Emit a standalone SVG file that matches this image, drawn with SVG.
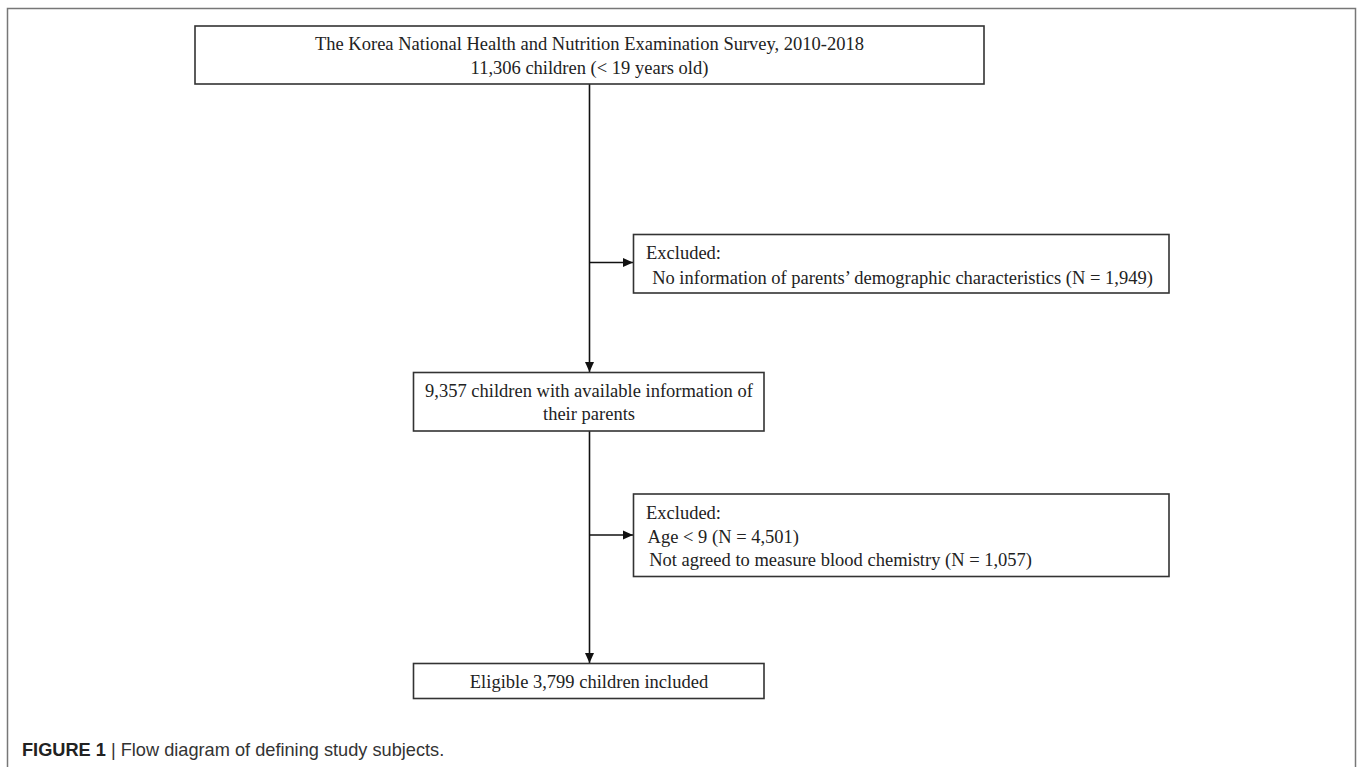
<svg xmlns="http://www.w3.org/2000/svg" width="1358" height="767" viewBox="0 0 1358 767">
<defs>
<style>
.box{fill:#fff;stroke:#333;stroke-width:1.6}
.t{font-family:"Liberation Serif","Times New Roman",serif;font-size:18.5px;fill:#222}
.c{text-anchor:middle}
.ln{stroke:#111;stroke-width:1.6;fill:none}
.cap{font-family:"Liberation Sans",Arial,sans-serif;font-size:18.2px;fill:#333}
</style>
<marker id="ah" viewBox="0 0 10 10" refX="10" refY="5" markerWidth="10" markerHeight="10" markerUnits="userSpaceOnUse" orient="auto">
<path d="M0,0.5 L10,5 L0,9.5 z" fill="#111"/>
</marker>
</defs>
<rect width="1358" height="767" fill="#fff"/>
<rect x="7.5" y="8.5" width="1348" height="780" fill="none" stroke="#777" stroke-width="1.5"/>
<g id="connectors">
<line class="ln" x1="589.5" y1="84" x2="589.5" y2="372" marker-end="url(#ah)"/>
<line class="ln" x1="589.5" y1="262.5" x2="633" y2="262.5" marker-end="url(#ah)"/>
<line class="ln" x1="589.5" y1="431" x2="589.5" y2="663" marker-end="url(#ah)"/>
<line class="ln" x1="589.5" y1="535" x2="633" y2="535" marker-end="url(#ah)"/>
</g>
<g id="n1">
<rect class="box" x="195" y="26" width="789" height="58"/>
<text class="t c" x="589.5" y="50">The Korea National Health and Nutrition Examination Survey, 2010-2018</text>
<text class="t c" x="589.5" y="74">11,306 children (&lt; 19 years old)</text>
</g>
<g id="n2">
<rect class="box" x="633.5" y="234.5" width="535.5" height="58.5"/>
<text class="t" x="646" y="259">Excluded:</text>
<text class="t" x="647.5" y="284" xml:space="preserve"> No information of parents’ demographic characteristics (N = 1,949)</text>
</g>
<g id="n3">
<rect class="box" x="413.5" y="372.5" width="350.5" height="58.5"/>
<text class="t c" x="589" y="397">9,357 children with available information of</text>
<text class="t c" x="589" y="420">their parents</text>
</g>
<g id="n4">
<rect class="box" x="633.5" y="494" width="535.5" height="82.5"/>
<text class="t" x="646" y="519">Excluded:</text>
<text class="t" x="644" y="543" xml:space="preserve"> Age &lt; 9 (N = 4,501)</text>
<text class="t" x="644.5" y="566" xml:space="preserve"> Not agreed to measure blood chemistry (N = 1,057)</text>
</g>
<g id="n5">
<rect class="box" x="413.5" y="663.5" width="350.5" height="35"/>
<text class="t c" x="589" y="688">Eligible 3,799 children included</text>
</g>
<text class="cap" x="22" y="756"><tspan font-weight="bold" fill="#222">FIGURE 1</tspan> | Flow diagram of defining study subjects.</text>
</svg>
